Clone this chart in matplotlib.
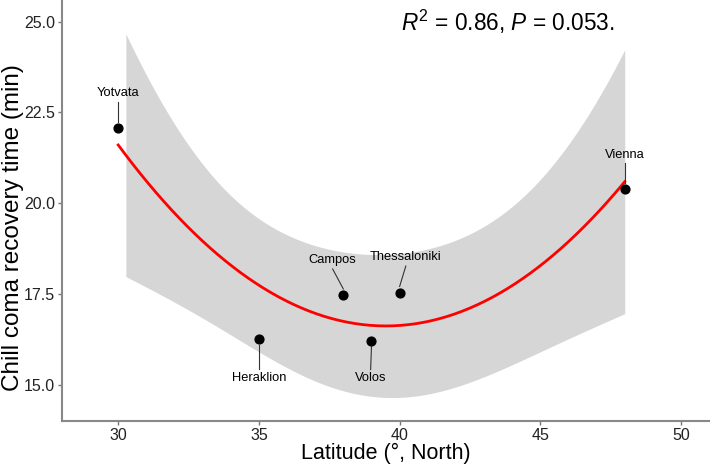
import numpy as np
from matplotlib import pyplot as plt

plt.rcParams['font.family'] = ['Liberation Sans', 'DejaVu Sans']
plt.rcParams['mathtext.fontset'] = 'custom'
plt.rcParams['mathtext.it'] = 'Liberation Sans:italic'
plt.rcParams['mathtext.rm'] = 'Liberation Sans'

# populations
sites = ["Yotvata", "Heraklion", "Campos", "Volos", "Thessaloniki", "Vienna"]
latitude = [30.0, 35.0, 38.0, 39.0, 40.0, 48.0]
recovery = [22.08, 16.26, 17.47, 16.22, 17.54, 20.39]

# label positions (data coords)
label_x = [30.0, 35.0, 37.62, 38.97, 40.22, 48.0]
label_y = [23.04, 15.2, 18.43, 15.18, 18.51, 21.34]

t_crit = 3.182  # t(0.975, df=3)
band_start = 30.2

x = np.array(latitude)
y = np.array(recovery)

# quadratic fit + 95% CI (like geom_smooth(method="lm", formula=y~poly(x,2)))
X = np.column_stack([np.ones_like(x), x, x ** 2])
beta, res, rank, sv = np.linalg.lstsq(X, y, rcond=None)
resid = y - X @ beta
df = len(x) - 3
sigma2 = np.sum(resid ** 2) / df
xtx_inv = np.linalg.inv(X.T @ X)

xs = np.linspace(x.min(), x.max(), 200)
Xs = np.column_stack([np.ones_like(xs), xs, xs ** 2])
fit = Xs @ beta
se = np.sqrt(sigma2 * np.einsum('ij,jk,ik->i', Xs, xtx_inv, Xs))
lo = fit - t_crit * se
hi = fit + t_crit * se
band = xs >= band_start

fig = plt.figure(figsize=(7.12, 4.68), dpi=100)
ax = fig.add_axes([0.087, 0.1, 0.909, 0.898])

ax.fill_between(xs[band], lo[band], hi[band], color="#d6d6d6", lw=0, zorder=1)
ax.plot(xs, fit, color="red", lw=2.0, zorder=2)
ax.scatter(x, y, s=40, color="black", zorder=4)

for name, px, py, lx, ly in zip(sites, latitude, recovery, label_x, label_y):
    ax.text(lx, ly, name, fontsize=9.3, ha="center", va="center", zorder=5)
    # leader segment from label edge to point
    if ly > py:
        y0, y1 = ly - 0.24, py + 0.17
    else:
        y0, y1 = ly + 0.24, py - 0.17
    ax.plot([lx, px], [y0, y1], color="#333333", lw=0.8, zorder=3)

ax.text(43.85, 25.0, r"$R^2$ = 0.86, $P$ = 0.053.", fontsize=16.3,
        ha="center", va="center")

ax.set_xlim(28, 51)
ax.set_ylim(14.0, 25.57)
ax.set_xticks([30, 35, 40, 45, 50])
ax.set_yticks([15.0, 17.5, 20.0, 22.5, 25.0])
ax.set_yticklabels(["15.0", "17.5", "20.0", "22.5", "25.0"])
ax.tick_params(labelsize=11.5, color="#777777", width=1, length=3,
               labelcolor="#222222", pad=2)

for side in ["top", "right"]:
    ax.spines[side].set_visible(False)
for side in ["left", "bottom"]:
    ax.spines[side].set_color("#888888")
    ax.spines[side].set_linewidth(1.5)

ax.set_xlabel("Latitude (°, North)", fontsize=15.5, labelpad=0)
ax.set_ylabel("Chill coma recovery time (min)", fontsize=17.5)
ax.yaxis.set_label_coords(-0.059, 0.46)

fig.savefig("out.png", dpi=100)
